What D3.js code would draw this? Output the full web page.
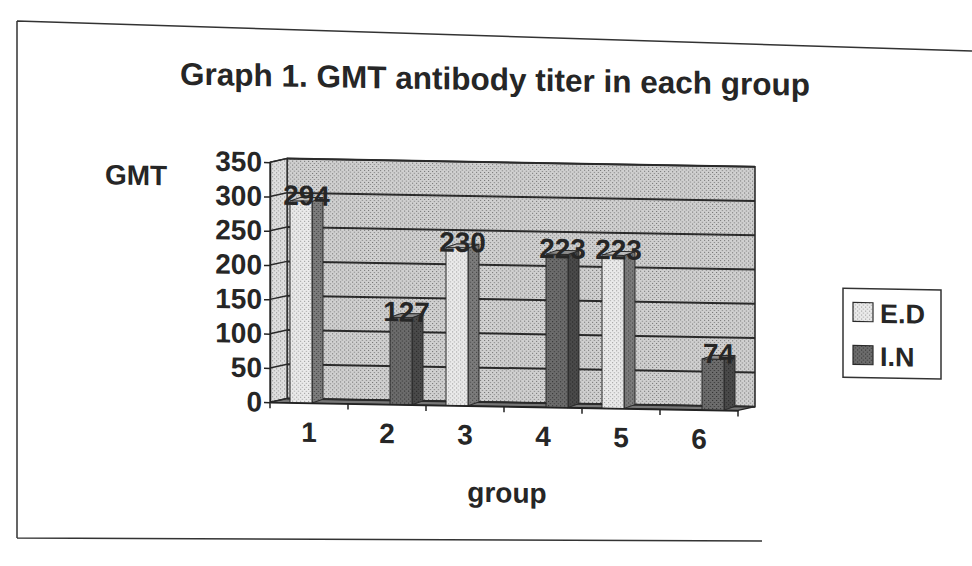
<!DOCTYPE html>
<html>
<head>
<meta charset="utf-8">
<script src="https://cdn.jsdelivr.net/npm/d3@7"></script>
<style>
body { margin: 0; background: #fff; }
svg text { font-family: "Liberation Sans", Arial, sans-serif; font-weight: bold; fill: #262626; }
</style>
</head>
<body>
<svg id="chart"></svg>
<script>
// values
var groups = ["1", "2", "3", "4", "5", "6"];
var series = ["E.D", "I.N"];
var edValues = [294, 0, 230, 0, 223, 0];
var inValues = [0, 127, 0, 223, 0, 74];
var yTicks = [0, 50, 100, 150, 200, 250, 300, 350];

var w = 972, h = 566;
var dx = 17, dy = -4;    // depth of back wall
var bdx = 11, bdy = -4;  // depth of a column
var tilt = Math.tan(Math.PI / 180); // the scan is slightly tilted

var svg = d3.select("#chart").attr("width", w).attr("height", h);
var defs = svg.append("defs");

// stippled fills like the printed halftone
function stipple(id, base, dot) {
    var p = defs.append("pattern").attr("id", id)
        .attr("patternUnits", "userSpaceOnUse")
        .attr("width", 4).attr("height", 4);
    p.append("rect").attr("width", 4).attr("height", 4).attr("fill", base);
    p.append("rect").attr("width", 1).attr("height", 1).attr("fill", dot);
    p.append("rect").attr("x", 2).attr("y", 2).attr("width", 1).attr("height", 1).attr("fill", dot);
}
stipple("wall", "#d0d0d0", "#6c6c6c");
stipple("sideWall", "#e0e0e0", "#808080");
stipple("edFront", "#eaeaea", "#949494");
stipple("edSide", "#7c7c7c", "#383838");
stipple("inFront", "#6c6c6c", "#2c2c2c");
stipple("inSide", "#4a4a4a", "#202020");

var colors = {
    "E.D": { front: "url(#edFront)", side: "url(#edSide)", top: "#bdbdbd" },
    "I.N": { front: "url(#inFront)", side: "url(#inSide)", top: "#8c8c8c" }
};

// page border
svg.append("path")
    .attr("d", "M17,21L972,51M17,21L17,538M17,538L762,541")
    .attr("fill", "none").attr("stroke", "#333").attr("stroke-width", 1.5);

var g = svg.append("g")
    .attr("transform", "translate(0," + (-486 * tilt) + ") skewY(1)");

var x0 = d3.scaleBand().domain(groups).range([270, 738]);
var x1 = d3.scaleBand().domain(series).range([20, 64]);
var y = d3.scaleLinear().domain([0, 350]).range([406, 166]);

var xl = x0.range()[0], xr = x0.range()[1];
var y0 = y(0), yTop = y(350);

// title
g.append("text").attr("x", 495).attr("y", 90)
    .attr("text-anchor", "middle").attr("font-size", 31.5)
    .text("Graph 1. GMT antibody titer in each group");

// walls and floor
g.append("rect")
    .attr("x", xl + dx).attr("y", yTop + dy)
    .attr("width", xr - xl).attr("height", y0 - yTop)
    .attr("fill", "url(#wall)").attr("stroke", "#222").attr("stroke-width", 1.5);

g.append("polygon")
    .attr("points", [[xl, y0], [xl + dx, y0 + dy], [xl + dx, yTop + dy], [xl, yTop]].join(" "))
    .attr("fill", "url(#sideWall)").attr("stroke", "#222").attr("stroke-width", 1.2);

g.append("polygon")
    .attr("points", [[xl, y0], [xr, y0], [xr + dx, y0 + dy], [xl + dx, y0 + dy]].join(" "))
    .attr("fill", "#777").attr("stroke", "#222").attr("stroke-width", 1.2);

// gridlines on back and side wall
g.selectAll(".grid").data(yTicks).enter().append("line")
    .attr("class", "grid")
    .attr("x1", xl + dx).attr("x2", xr + dx)
    .attr("y1", function (d) { return y(d) + dy; })
    .attr("y2", function (d) { return y(d) + dy; })
    .attr("stroke", "#2a2a2a").attr("stroke-width", 2);

g.selectAll(".sgrid").data(yTicks).enter().append("line")
    .attr("class", "sgrid")
    .attr("x1", xl).attr("x2", xl + dx)
    .attr("y1", function (d) { return y(d); })
    .attr("y2", function (d) { return y(d) + dy; })
    .attr("stroke", "#2a2a2a").attr("stroke-width", 1.5);

// columns
var rows = [];
groups.forEach(function (grp, i) {
    rows.push({ group: grp, key: "E.D", value: edValues[i] });
    rows.push({ group: grp, key: "I.N", value: inValues[i] });
});
rows = rows.filter(function (d) { return d.value > 0; });

var bw = x1.bandwidth();
var bars = g.selectAll(".bar").data(rows).enter().append("g").attr("class", "bar");

bars.append("polygon")
    .attr("points", function (d) {
        var x = x0(d.group) + x1(d.key), yt = y(d.value);
        return [[x + bw, yt], [x + bw + bdx, yt + bdy], [x + bw + bdx, y0 + bdy], [x + bw, y0]].join(" ");
    })
    .attr("fill", function (d) { return colors[d.key].side; })
    .attr("stroke", "#2a2a2a").attr("stroke-width", 1);

bars.append("polygon")
    .attr("points", function (d) {
        var x = x0(d.group) + x1(d.key), yt = y(d.value);
        return [[x, yt], [x + bw, yt], [x + bw + bdx, yt + bdy], [x + bdx, yt + bdy]].join(" ");
    })
    .attr("fill", function (d) { return colors[d.key].top; })
    .attr("stroke", "#2a2a2a").attr("stroke-width", 1);

bars.append("rect")
    .attr("x", function (d) { return x0(d.group) + x1(d.key); })
    .attr("y", function (d) { return y(d.value); })
    .attr("width", bw)
    .attr("height", function (d) { return y0 - y(d.value); })
    .attr("fill", function (d) { return colors[d.key].front; })
    .attr("stroke", "#2a2a2a").attr("stroke-width", 1);

// value labels
g.selectAll(".val").data(rows).enter().append("text")
    .attr("class", "val")
    .attr("x", function (d) { return x0(d.group) + x1(d.key) + bw / 2 + bdx / 2; })
    .attr("y", function (d) { return y(d.value) + 4; })
    .attr("text-anchor", "middle").attr("font-size", 28)
    .text(function (d) { return d.value; });

// y axis
var yAxis = g.append("g")
    .attr("transform", "translate(" + xl + ",0)")
    .call(d3.axisLeft(y).tickValues(yTicks).tickSize(6).tickSizeOuter(0).tickPadding(2));
yAxis.attr("font-family", null).attr("font-size", 28);
yAxis.select(".domain").attr("stroke", "#222").attr("stroke-width", 1.5);
yAxis.selectAll(".tick line").attr("stroke", "#222").attr("stroke-width", 1.5);
yAxis.selectAll(".tick text").attr("fill", null);

// x axis: labels at the centre, ticks between groups
var xAxis = g.append("g")
    .attr("transform", "translate(0," + y0 + ")")
    .call(d3.axisBottom(x0).tickSize(0).tickPadding(19));
xAxis.attr("font-family", null).attr("font-size", 28);
xAxis.select(".domain").attr("stroke", "#222").attr("stroke-width", 1.5);
xAxis.selectAll(".tick text").attr("fill", null);

var edges = [xl].concat(groups.map(function (d) { return x0(d) + x0.step(); }));
g.selectAll(".xtick").data(edges).enter().append("line")
    .attr("class", "xtick")
    .attr("x1", function (d) { return d; }).attr("x2", function (d) { return d; })
    .attr("y1", y0).attr("y2", y0 + 6)
    .attr("stroke", "#222").attr("stroke-width", 1.5);

// axis titles
g.append("text").attr("x", 105).attr("y", 191).attr("font-size", 28).text("GMT");
g.append("text").attr("x", 507).attr("y", 502)
    .attr("text-anchor", "middle").attr("font-size", 28).text("group");

// legend
var legend = g.append("g");
legend.append("rect")
    .attr("x", 843).attr("y", 282).attr("width", 98).attr("height", 89)
    .attr("fill", "#fff").attr("stroke", "#333").attr("stroke-width", 1.5);

var item = legend.selectAll(".item").data(series).enter().append("g")
    .attr("class", "item")
    .attr("transform", function (d, i) { return "translate(853," + (296 + i * 43) + ")"; });
item.append("rect").attr("width", 20).attr("height", 19)
    .attr("fill", function (d) { return colors[d].front; })
    .attr("stroke", "#2a2a2a").attr("stroke-width", 1.2);
item.append("text").attr("x", 27).attr("y", 20).attr("font-size", 27)
    .text(function (d) { return d; });
</script>
</body>
</html>
